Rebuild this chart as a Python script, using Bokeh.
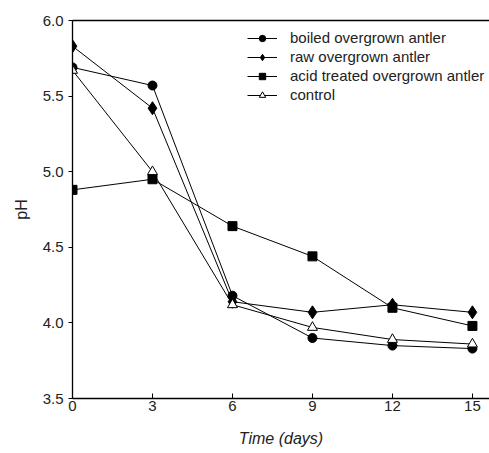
from bokeh.plotting import figure
from bokeh.models import Range1d, FixedTicker, LinearAxis, Legend, LegendItem, CustomJSTickFormatter
from bokeh.embed import file_html
from bokeh.resources import INLINE

days = [0, 3, 6, 9, 12, 15]
boiled = [5.69, 5.57, 4.18, 3.90, 3.85, 3.83]
raw = [5.83, 5.42, 4.14, 4.07, 4.12, 4.07]
acid = [4.88, 4.95, 4.64, 4.44, 4.10, 3.98]
control = [5.67, 5.00, 4.12, 3.97, 3.89, 3.86]
labels = ["boiled overgrown antler", "raw overgrown antler",
          "acid treated overgrown antler", "control"]
x_ticks = [0, 3, 6, 9, 12, 15]
y_ticks = [3.5, 4.0, 4.5, 5.0, 5.5, 6.0]

FONT = "Liberation Sans"
p = figure(width=489, height=453, output_backend="svg", toolbar_location=None,
           x_range=Range1d(0, 15.64), y_range=Range1d(3.5, 6.0),
           min_border_left=72, min_border_top=20, min_border_bottom=55, min_border_right=0)
p.outline_line_color = None
p.grid.visible = False
p.background_fill_color = "white"

p.xaxis.ticker = FixedTicker(ticks=x_ticks)
p.yaxis.ticker = FixedTicker(ticks=y_ticks)
p.yaxis.formatter = CustomJSTickFormatter(code="return tick.toFixed(1);")
for ax in (p.xaxis, p.yaxis):
    ax.axis_line_color = "black"
    ax.axis_line_width = 1.3
    ax.major_tick_line_color = "black"
    ax.minor_tick_line_color = None
    ax.major_label_text_font = FONT
    ax.major_label_text_font_size = "15px"
    ax.major_label_text_color = "#222222"
    ax.axis_label_text_font = FONT
    ax.axis_label_text_font_size = "16px"
    ax.axis_label_text_color = "#222222"
p.xaxis.major_tick_in = 5
p.xaxis.major_tick_out = 0
p.xaxis.major_label_standoff = 2
p.yaxis.major_tick_in = 0
p.yaxis.major_tick_out = 4
p.yaxis.major_label_standoff = 5
p.xaxis.axis_label = "Time (days)"
p.xaxis.axis_label_text_font_style = "italic"
p.xaxis.axis_label_standoff = 16
p.yaxis.axis_label = "pH"
p.yaxis.axis_label_text_font_style = "normal"
p.yaxis.axis_label_standoff = 10

top = LinearAxis(ticker=FixedTicker(ticks=[]), axis_line_width=1.3, axis_line_color="black")
top.major_label_text_font_size = "0px"
p.add_layout(top, "above")

items = []
series = [(boiled, "circle", 9), (raw, "diamond", 13), (acid, "square", 9), (control, "triangle", 10)]
for (vals, marker, sz), lab in zip(series, labels):
    l = p.line(days, vals, line_color="black", line_width=1)
    fill = "white" if marker == "triangle" else "black"
    s = p.scatter(days, vals, marker=marker, size=sz, fill_color=fill, line_color="black", line_width=1)
    items.append(LegendItem(label=lab, renderers=[l, s]))

leg = Legend(items=items, location=(175, 295), border_line_color=None,
             background_fill_alpha=0, label_text_font=FONT, label_text_font_size="15px",
             label_text_color="#222222", glyph_width=30, glyph_height=16, label_height=16,
             spacing=2, padding=0, margin=0, label_standoff=13)
p.add_layout(leg, "center")

open("out.html", "w").write(file_html(p, INLINE))
